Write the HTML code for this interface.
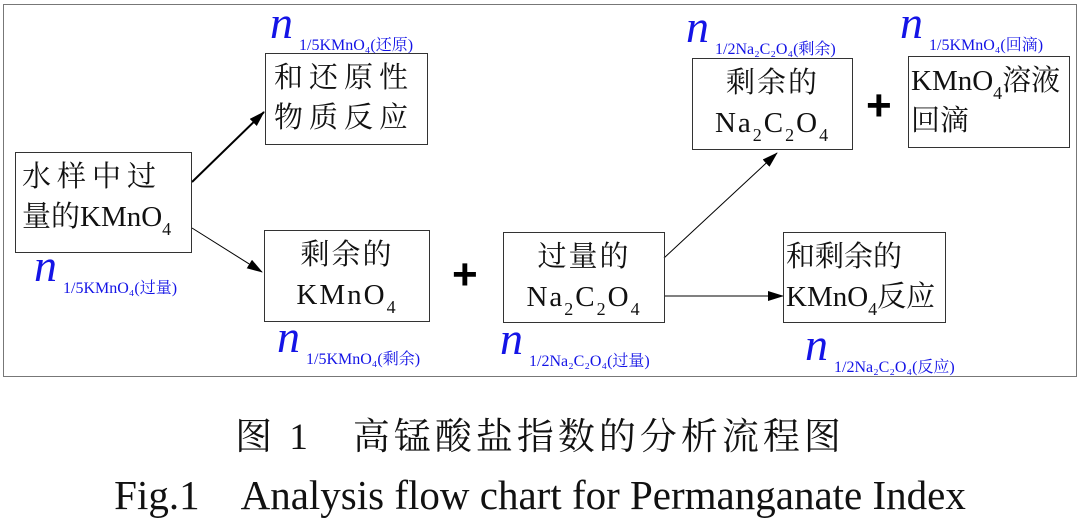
<!DOCTYPE html>
<html><head><meta charset="utf-8"><style>
body{margin:0;width:1080px;height:512px;background:#fff;position:relative;overflow:hidden;font-family:"Liberation Serif","Noto Serif CJK SC",serif;}
.frame{position:absolute;left:3px;top:4px;width:1072px;height:371px;border:1.5px solid #777;}
.box{position:absolute;border:1.5px solid #333;box-sizing:border-box;font-size:29px;line-height:40px;color:#111;padding:4px 8px;letter-spacing:2px;white-space:nowrap}
.c{text-align:center}
sub{font-size:18px;vertical-align:-9px;line-height:0}
.n{position:absolute;color:#1414e6;font-style:italic;font-size:46px;line-height:1;white-space:nowrap}
.n span{font-style:normal;font-size:16px;margin-left:6px;vertical-align:-12px;}
.plus{position:absolute;font-family:"Liberation Sans",sans-serif;font-weight:bold;font-size:44px;line-height:1;}
.cap{position:absolute;left:0;width:1080px;text-align:center;color:#111;white-space:nowrap}
</style></head><body>
<div class="frame"></div>
<svg width="1080" height="512" style="position:absolute;left:0;top:0">
<defs><marker id="b" markerWidth="16" markerHeight="10" refX="15" refY="5" orient="auto" markerUnits="userSpaceOnUse"><path d="M0,0L16,5L0,10z" fill="#000"/></marker></defs>
<line x1="192" y1="182" x2="264" y2="112" stroke="#000" stroke-width="2" marker-end="url(#b)"/>
<line x1="192" y1="228" x2="262" y2="272" stroke="#000" stroke-width="1" marker-end="url(#b)"/>
<line x1="664" y1="258" x2="777" y2="153" stroke="#000" stroke-width="1" marker-end="url(#b)"/>
<line x1="664" y1="296" x2="783" y2="296" stroke="#000" stroke-width="1" marker-end="url(#b)"/>
</svg>
<div class="box" style="left:15px;top:152px;width:177px;height:101px;padding:4px 6px;letter-spacing:0"><span style="letter-spacing:6px">水样中过</span><br>量的KMnO<sub>4</sub></div>
<div class="box" style="left:265px;top:53px;width:163px;height:92px;letter-spacing:6px">和还原性<br>物质反应</div>
<div class="box c" style="left:264px;top:230px;width:166px;height:92px;">剩余的<br>KMnO<sub>4</sub></div>
<div class="box c" style="left:503px;top:232px;width:162px;height:91px;">过量的<br>Na<sub>2</sub>C<sub>2</sub>O<sub>4</sub></div>
<div class="box c" style="left:692px;top:58px;width:161px;height:92px;">剩余的<br>Na<sub>2</sub>C<sub>2</sub>O<sub>4</sub></div>
<div class="box" style="left:908px;top:56px;width:162px;height:92px;padding:4px 2px;letter-spacing:0">KMnO<sub>4</sub>溶液<br>回滴</div>
<div class="box" style="left:783px;top:232px;width:163px;height:91px;padding:4px 2px;letter-spacing:0">和剩余的<br>KMnO<sub>4</sub>反应</div>
<div class="plus" style="left:452px;top:253px">+</div>
<div class="plus" style="left:866px;top:84px">+</div>
<div class="n" style="left:270px;top:0px">n<span>1/5KMnO₄(还原)</span></div>
<div class="n" style="left:34px;top:243px">n<span>1/5KMnO₄(过量)</span></div>
<div class="n" style="left:277px;top:314px">n<span>1/5KMnO₄(剩余)</span></div>
<div class="n" style="left:500px;top:316px">n<span>1/2Na₂C₂O₄(过量)</span></div>
<div class="n" style="left:686px;top:4px">n<span>1/2Na₂C₂O₄(剩余)</span></div>
<div class="n" style="left:900px;top:0px">n<span>1/5KMnO₄(回滴)</span></div>
<div class="n" style="left:805px;top:322px">n<span>1/2Na₂C₂O₄(反应)</span></div>
<div class="cap" style="top:406px;font-size:37px;letter-spacing:4px">图 1　高锰酸盐指数的分析流程图</div>
<div class="cap" style="top:462px;font-size:41px">Fig.1　Analysis flow chart for Permanganate Index</div>
</body></html>
